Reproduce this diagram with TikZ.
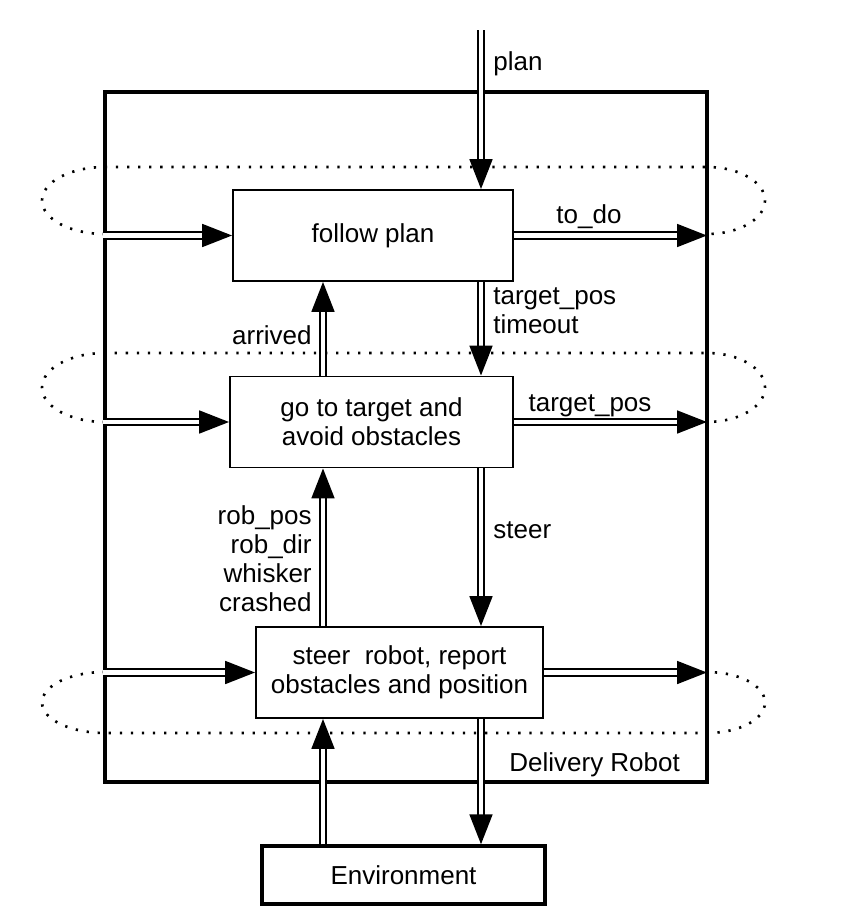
\documentclass[tikz,border=0pt]{standalone}
\usepackage{fontspec}
\setmainfont{Liberation Sans}
\usetikzlibrary{arrows.meta}
\begin{document}
\begin{tikzpicture}[x=0.02cm, y=-0.02cm, font=\fontsize{14.8}{16.6}\selectfont,
  main/.style = {draw, line width=1.1pt, minimum width=5.6cm, minimum height=1.82cm, align=center},
  flow/.style = {double, double distance=2.3pt, line width=1.2pt, -{Triangle[length=17pt, width=13pt]}},
  loop/.style = {line width=1.5pt, dash pattern=on 1.3pt off 5pt},
  lbl/.style = {inner sep=0pt}]
\useasboundingbox (0,0) rectangle (858,906);
% layers of the robot
\node[draw, line width=2pt, minimum width=12.04cm, minimum height=13.8cm] (robot) at (406,437) {};
\node[main] (plan) at (373,235.5) {follow plan};
\node[main, minimum width=5.66cm] (target) at (371.5,422) {go to target and\\avoid obstacles};
\node[main, minimum width=5.74cm] (body) at (399.5,672.5) {steer\ \ robot, report\\obstacles and position};
\node[main, line width=2pt, minimum width=5.66cm, minimum height=1.16cm] (env) at (403.5,875) {Environment};
\coordinate (xr) at (481,0);
\coordinate (xl) at (323,0);
\coordinate (in) at (481,30);
% belief state loops
\draw[loop] (105,234) arc[start angle=270, end angle=90, x radius=1.26cm, y radius=0.67cm]
  -- (707,167) arc[start angle=90, end angle=-90, x radius=1.16cm, y radius=0.67cm];
\draw[loop] (105,422) arc[start angle=270, end angle=90, x radius=1.26cm, y radius=0.69cm]
  -- (707,353) arc[start angle=90, end angle=-90, x radius=1.16cm, y radius=0.69cm];
\draw[loop] (105,672) arc[start angle=90, end angle=270, x radius=1.26cm, y radius=0.61cm]
  -- (707,733) arc[start angle=-90, end angle=90, x radius=1.16cm, y radius=0.61cm];
% flows
\draw[flow] (in) -- (in |- plan.north);
\draw[flow] (robot.west |- plan) -- (plan);
\draw[flow] (plan) -- ([xshift=-1pt]robot.east |- plan);
\draw[flow] (xr |- plan.south) -- (xr |- target.north);
\draw[flow] (xl |- target.north) -- (xl |- plan.south);
\draw[flow] (robot.west |- target) -- (target);
\draw[flow] (target) -- ([xshift=-1pt]robot.east |- target);
\draw[flow] (xr |- target.south) -- (xr |- body.north);
\draw[flow] (xl |- body.north) -- (xl |- target.south);
\draw[flow] (robot.west |- body) -- (body);
\draw[flow] (body) -- ([xshift=-1pt]robot.east |- body);
\draw[flow] (xr |- body.south) -- (xr |- env.north);
\draw[flow] (xl |- env.north) -- (xl |- body.south);
% labels
\node[lbl, anchor=base west] (l1) at (493,70) {plan};
\node[lbl, anchor=base] (l2) at (589,223) {to\_do};
\node[lbl, anchor=north west, align=left] (l3) at (493,287) {target\_pos\\timeout};
\node[lbl, anchor=base east] (l4) at (312,344) {arrived};
\node[lbl, anchor=base] (l5) at (590,411) {target\_pos};
\node[lbl, anchor=base west] (l6) at (493,538) {steer};
\node[lbl, anchor=north east, align=right] (l7) at (312,505) {rob\_pos\\rob\_dir\\whisker\\crashed};
\node[lbl, anchor=base west] (l8) at (509,771) {Delivery Robot};
\end{tikzpicture}
\end{document}
